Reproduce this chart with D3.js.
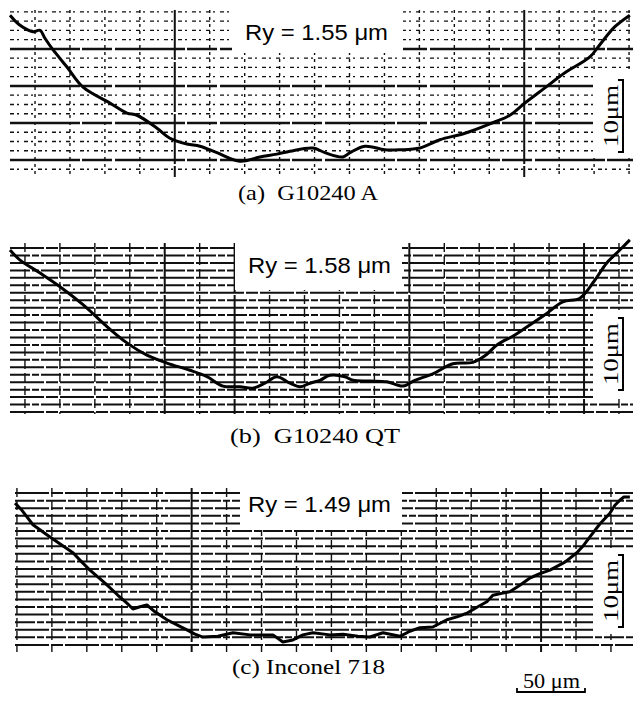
<!DOCTYPE html>
<html>
<head>
<meta charset="utf-8">
<script src="https://cdn.jsdelivr.net/npm/d3@7"></script>
<style>
body{margin:0;background:#fff}
</style>
</head>
<body>
<svg id="fig" width="633" height="701"></svg>
<script>
// profile traces, [distance um, height um above panel bottom]
var profileA = [[0,22.2],[7.4,20.8],[16.9,19.9],[22.1,20.1],[25.7,19.0],[31.6,17.4],[41.9,15.0],[53.7,12.2],
  [73.5,10.0],[86.0,8.6],[93.4,8.3],[108.1,6.5],[117.6,5.1],[130.1,4.3],[139.7,4.0],[152.2,3.1],[169.1,1.9],
  [183.8,2.5],[196.3,2.9],[205.9,3.3],[222.8,3.75],[231.6,3.1],[244.9,2.5],[250,3.1],[261,4.0],[275.7,3.5],
  [286.8,3.5],[301.5,3.75],[316.2,4.9],[334.6,5.8],[352.9,7.1],[367.6,8.3],[378.7,10.0],[393.4,12.1],
  [408.1,14.2],[426.5,16.4],[433.8,18.1],[444.9,20.6],[455.9,22.2]];

var profileB = [[0,22.5],[7.4,21.1],[22.1,19.3],[36.8,17.4],[53.7,14.9],[69.9,12.1],[86.0,9.6],[100.7,7.9],
  [115.4,6.8],[132.4,5.8],[144.9,4.9],[156.6,3.6],[169.1,3.5],[178.7,3.3],[187.5,4.0],[196.3,4.9],[205.9,4.0],
  [213.2,3.5],[220.6,4.0],[227.9,4.4],[235.3,5.1],[246.3,4.9],[252.2,4.4],[264.7,4.3],[277.2,4.2],[289.0,3.6],
  [297.8,4.4],[311.0,5.3],[325.7,6.7],[340.4,6.9],[349.3,7.8],[358.1,9.3],[371.3,10.7],[380.1,11.8],
  [393.4,13.5],[406.6,15.3],[419.1,15.8],[430.1,18.3],[438.9,20.7],[448.5,22.5],[455.9,23.9]];

var profileC = [[3.7,20.4],[8.8,19.4],[16.9,17.4],[29.4,15.7],[46.3,13.5],[52.9,12.2],[58.8,11.1],[69.9,9.3],
  [79.4,7.6],[86.0,6.5],[90.4,5.7],[95.6,6.0],[100.7,6.25],[106.6,5.3],[115.4,4.2],[122.8,3.5],[130.1,2.8],
  [136.0,2.2],[141.9,1.8],[152.9,1.9],[164.0,2.4],[176.5,2.1],[193.4,2.1],[200.7,1.1],[208.1,1.4],[215.4,2.1],
  [222.8,2.4],[235.3,2.1],[244.9,2.2],[255.9,1.9],[264.7,1.8],[274.3,2.4],[286.8,1.9],[294.1,2.6],[301.5,3.1],
  [311.0,3.2],[321.3,4.2],[328.7,4.6],[336.0,5.1],[344.1,6.0],[350.7,6.7],[355.1,7.6],[362.5,7.9],[367.6,8.1],
  [375.0,9.0],[382.4,10.0],[389.7,10.6],[397.1,11.1],[408.1,12.2],[416.9,13.5],[421.3,14.4],[426.5,15.7],
  [433.8,17.5],[441.2,19.0],[444.9,20.1],[448.5,20.8],[451.5,21.25],[455.9,21.25]];

var ryLabels = ["Ry = 1.55 \u03bcm", "Ry = 1.58 \u03bcm", "Ry = 1.49 \u03bcm"];
var panelTitles = ["(a)  G10240 A", "(b)  G10240 QT", "(c) Inconel 718"];
var vBarLabel = "10\u03bcm";
var vBarSize = 10;   // um
var hBarLabel = "50 \u03bcm";
var hBarSize = 50;   // um

var svg = d3.select("#fig");
var W = 633;
var xScale = d3.scaleLinear().domain([0, 456]).range([10, 630]);

var panels = [
  {profile: profileA, ry: ryLabels[0], title: panelTitles[0], bottom: 175, top: 12, left: 10, smooth: true,
   hStart: 0.8, hStep: 1.285, hCount: 18, hMajor: [1,5,9,13], hFine: true,
   vStart: 18.4, vCount: 18, vMajor: [4,14],
   box: [232, 6, 171, 47], ryX: 245, ryY: 40, barLow: 3.2,
   cut: [593, 72, 40, 86], capX: 238, capY: 200, capLen: 140},
  {profile: profileB, ry: ryLabels[1], title: panelTitles[1], bottom: 412, top: 245, left: 10, smooth: true,
   hStart: 0, hStep: 1.035, hCount: 23, hMajor: [], hFine: false,
   vStart: 11, vCount: 18, vMajor: [4,6,11,16],
   box: [235, 243, 167, 47], ryX: 248, ryY: 273, barLow: 3.05,
   cut: [593, 310, 40, 88], capX: 230, capY: 443, capLen: 170},
  {profile: profileC, ry: ryLabels[2], title: panelTitles[2], bottom: 650, top: 490, left: 15, smooth: false,
   hStart: 0.7, hStep: 1.055, hCount: 21, hMajor: [], hFine: false,
   vStart: 5.1, vCount: 18, vMajor: [5,15],
   box: [240, 484, 162, 46], ryX: 248, ryY: 512, barLow: 3.2,
   cut: [593, 548, 40, 86], capX: 232, capY: 674, capLen: 153}
];

var drawPanel = function(p)
{
  var yScale = d3.scaleLinear()
    .domain([0, 23])
    .range([p.bottom, p.bottom - 23 * 7.2]);
  var g = svg.append("g");

  // chart paper, horizontal rules
  var hVals = d3.range(p.hCount).map(function(i){ return p.hStart + i * p.hStep; });
  g.selectAll("line.h")
    .data(hVals)
    .enter()
    .append("line")
    .attr("x1", p.left)
    .attr("x2", W)
    .attr("y1", function(d){ return yScale(d); })
    .attr("y2", function(d){ return yScale(d); })
    .attr("stroke", "#111")
    .attr("stroke-width", function(d, i){
      if(p.hFine) { return p.hMajor.indexOf(i) >= 0 ? 2.4 : 1.3; }
      return 2; })
    .attr("stroke-dasharray", function(d, i){
      if(p.hFine) { return p.hMajor.indexOf(i) >= 0 ? "70,2,30,3" : "4,3,2,5"; }
      return (i % 2 == 0) ? "34,2,12,2" : "20,2,7,2"; });

  // vertical rules
  var vVals = d3.range(p.vCount).map(function(i){ return p.vStart + i * 25.7; });
  g.selectAll("line.v")
    .data(vVals)
    .enter()
    .append("line")
    .attr("x1", function(d){ return xScale(d); })
    .attr("x2", function(d){ return xScale(d); })
    .attr("y1", p.top - 2)
    .attr("y2", p.bottom + 2)
    .attr("stroke", "#111")
    .attr("stroke-width", function(d, i){ return p.vMajor.indexOf(i) >= 0 ? 2 : 1.4; })
    .attr("stroke-dasharray", function(d, i){
      if(p.vMajor.indexOf(i) >= 0) { return "50,2"; }
      return p.hFine ? "3,4" : "9,4"; });

  // blank spots on the paper for labels
  g.append("rect")
    .attr("x", p.box[0]).attr("y", p.box[1])
    .attr("width", p.box[2]).attr("height", p.box[3])
    .attr("fill", "#fff");
  g.append("rect")
    .attr("x", p.cut[0]).attr("y", p.cut[1])
    .attr("width", p.cut[2]).attr("height", p.cut[3])
    .attr("fill", "#fff");

  // profile trace
  var line = d3.line()
    .x(function(d){ return xScale(d[0]); })
    .y(function(d){ return yScale(d[1]); })
    .curve(p.smooth ? d3.curveCatmullRom : d3.curveLinear);
  g.append("path")
    .datum(p.profile)
    .attr("d", line)
    .attr("fill", "none")
    .attr("stroke", "#000")
    .attr("stroke-width", 3)
    .attr("stroke-linejoin", "round");

  g.append("text")
    .attr("x", p.ryX)
    .attr("y", p.ryY)
    .attr("font-family", "Liberation Sans, Arial, sans-serif")
    .attr("font-size", 22)
    .attr("textLength", 143)
    .attr("lengthAdjust", "spacingAndGlyphs")
    .text(p.ry);

  // 10 um bracket
  var y0 = yScale(p.barLow), y1 = yScale(p.barLow + vBarSize);
  g.append("path")
    .attr("d", "M618," + y1 + "H623V" + y0 + "H618")
    .attr("fill", "none")
    .attr("stroke", "#000")
    .attr("stroke-width", 2);
  g.append("text")
    .attr("transform", "translate(618," + ((y0 + y1) / 2) + ") rotate(-90)")
    .attr("text-anchor", "middle")
    .attr("font-family", "Liberation Serif, Times New Roman, serif")
    .attr("font-size", 21)
    .attr("textLength", 62)
    .attr("lengthAdjust", "spacingAndGlyphs")
    .text(vBarLabel);

  svg.append("text")
    .attr("x", p.capX)
    .attr("y", p.capY)
    .attr("font-family", "Liberation Serif, Times New Roman, serif")
    .attr("font-size", 21)
    .attr("textLength", p.capLen)
    .attr("lengthAdjust", "spacingAndGlyphs")
    .attr("xml:space", "preserve")
    .style("white-space", "pre")
    .text(p.title);
};

panels.forEach(drawPanel);

// 50 um scale bar
var bx0 = 517, bx1 = bx0 + (xScale(hBarSize) - xScale(0));
svg.append("path")
  .attr("d", "M" + bx0 + ",688V692H" + bx1 + "V688")
  .attr("fill", "none")
  .attr("stroke", "#000")
  .attr("stroke-width", 1.8);
svg.append("text")
  .attr("x", 523)
  .attr("y", 688)
  .attr("font-family", "Liberation Serif, Times New Roman, serif")
  .attr("font-size", 20)
  .attr("textLength", 57)
  .attr("lengthAdjust", "spacingAndGlyphs")
  .text(hBarLabel);
</script>
</body>
</html>
